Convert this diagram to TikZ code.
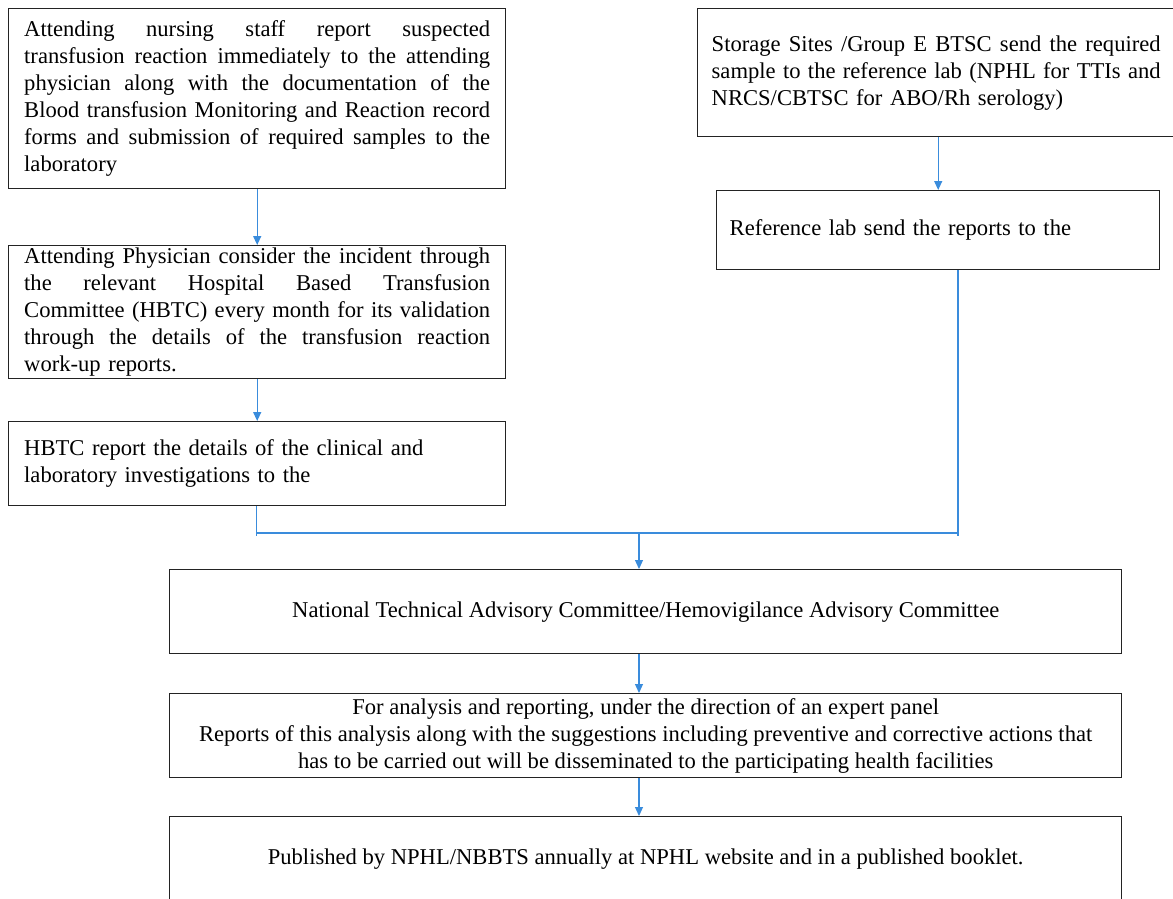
\documentclass[tikz,border=0pt]{standalone}
\usepackage{fontspec}
\setmainfont{Liberation Serif}
\usetikzlibrary{arrows.meta,calc}
\definecolor{arrowblue}{RGB}{58,140,220}
\definecolor{boxline}{RGB}{35,35,35}
\newcommand{\jline}[2]{\leavevmode\hbox to #1{\spaceskip=0.25em plus 1fil minus 0.05em\relax #2}\\}
\begin{document}
\begin{tikzpicture}[x=1pt,y=-1pt,
  box/.style={draw=boxline,line width=1.4pt,rectangle,anchor=north west,inner ysep=0pt,
    font=\fontsize{22.6}{27}\selectfont},
  conn/.style={draw=arrowblue,line width=1.2pt},
  arr/.style={conn,-{Triangle[length=9pt,width=8pt]}}]
\useasboundingbox (0,0) rectangle (1173,898);
\clip (0,0) rectangle (1173,898);
% left column
\node[box,text width=466pt,inner xsep=15.5pt,minimum height=180pt,align=left] (b1) at (8,8) {%
\jline{466pt}{Attending nursing staff report suspected}%
\jline{466pt}{transfusion reaction immediately to the attending}%
\jline{466pt}{physician along with the documentation of the}%
\jline{466pt}{Blood transfusion Monitoring and Reaction record}%
\jline{466pt}{forms and submission of required samples to the}%
laboratory};
\node[box,text width=466pt,inner xsep=15.5pt,minimum height=133pt,align=left] (b2) at (8,245) {%
\jline{466pt}{Attending Physician consider the incident through}%
\jline{466pt}{the relevant Hospital Based Transfusion}%
\jline{466pt}{Committee (HBTC) every month for its validation}%
\jline{466pt}{through the details of the transfusion reaction}%
work-up reports.};
\node[box,text width=466pt,inner xsep=15.5pt,minimum height=84pt,align=left] (b3) at (8,421) {%
HBTC report the details of the clinical and\\
laboratory investigations to the};
% right column
\node[box,text width=449pt,inner xsep=14pt,minimum height=128pt,align=left] (r1) at (697,8) {%
\jline{449pt}{Storage Sites /Group E BTSC send the required}%
\jline{449pt}{sample to the reference lab (NPHL for TTIs and}%
NRCS/CBTSC for ABO/Rh serology)};
\node[box,text width=417pt,inner xsep=13pt,minimum height=79pt,align=left] (r2) at (716,190) {%
Reference lab send the reports to the};
% bottom
\node[box,minimum width=952pt,minimum height=84pt,align=center] (n1) at (169,569) {%
National Technical Advisory Committee/Hemovigilance Advisory Committee};
\node[box,minimum width=952pt,minimum height=84pt,align=center] (n2) at (169,693) {%
For analysis and reporting, under the direction of an expert panel\\
Reports of this analysis along with the suggestions including preventive and corrective actions that\\
has to be carried out will be disseminated to the participating health facilities};
\node[box,minimum width=952pt,minimum height=84pt,align=center] (n3) at (169,816) {%
Published by NPHL/NBBTS annually at NPHL website and in a published booklet.};
% connectors
\coordinate (jl) at (256.5,533);
\coordinate (jr) at (958,533);
\coordinate (jm) at (639,533);
\draw[arr] (b1.south) -- (b2.north);
\draw[arr] (b2.south) -- (b3.north);
\draw[arr] (r2.north |- r1.south) -- (r2.north);
\draw[conn] (jl |- b3.south) -- ($(jl)+(0,3)$);
\draw[conn] (jr |- r2.south) -- ($(jr)+(0,3)$);
\draw[conn] (jl) -- (jr);
\draw[arr] (jm) -- (jm |- n1.north);
\draw[arr] (n1.south -| jm) -- (jm |- n2.north);
\draw[arr] (n2.south -| jm) -- (jm |- n3.north);
\end{tikzpicture}
\end{document}
